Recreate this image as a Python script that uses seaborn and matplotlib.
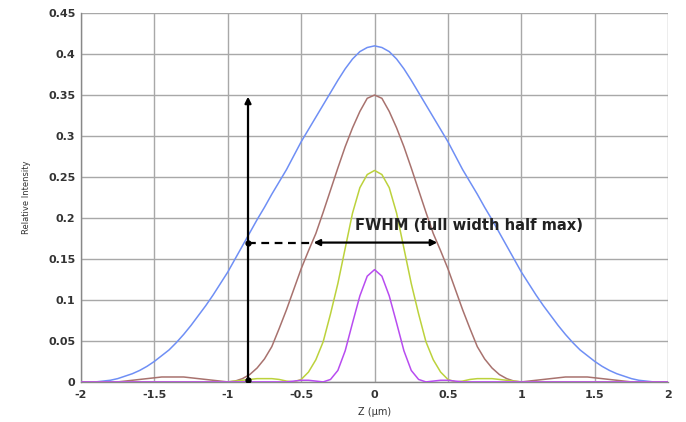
import numpy as np
import pandas as pd
import seaborn as sns
import matplotlib.pyplot as plt

# axial position (um), one grid shared by all four curves
z_um = [round(-2 + 0.05 * i, 2) for i in range(81)]

# relative intensity, left to right (z = -2 ... 2)
blue = [0.000, 0.000, 0.000, 0.001, 0.002, 0.004, 0.007, 0.010, 0.014, 0.019,
        0.025, 0.032, 0.039, 0.048, 0.058, 0.069, 0.081, 0.093, 0.106, 0.120,
        0.134, 0.150, 0.166, 0.182, 0.198, 0.213, 0.229, 0.244, 0.259, 0.276,
        0.293, 0.308, 0.323, 0.338, 0.353, 0.368, 0.382, 0.394, 0.403, 0.408,
        0.410,
        0.408, 0.403, 0.394, 0.382, 0.368, 0.353, 0.338, 0.323, 0.308, 0.293,
        0.276, 0.259, 0.244, 0.229, 0.213, 0.198, 0.182, 0.166, 0.150, 0.134,
        0.120, 0.106, 0.093, 0.081, 0.069, 0.058, 0.048, 0.039, 0.032, 0.025,
        0.019, 0.014, 0.010, 0.007, 0.004, 0.002, 0.001, 0.000, 0.000, 0.000]

brown = [0.000, 0.000, 0.000, 0.000, 0.000, 0.000, 0.001, 0.002, 0.003, 0.004,
         0.005, 0.006, 0.006, 0.006, 0.006, 0.005, 0.004, 0.003, 0.002, 0.001,
         0.000, 0.001, 0.004, 0.009, 0.017, 0.028, 0.043, 0.065, 0.088, 0.113,
         0.138, 0.160, 0.181, 0.207, 0.234, 0.261, 0.287, 0.310, 0.330, 0.346,
         0.350,
         0.346, 0.330, 0.310, 0.287, 0.261, 0.234, 0.207, 0.181, 0.160, 0.138,
         0.113, 0.088, 0.065, 0.043, 0.028, 0.017, 0.009, 0.004, 0.001, 0.000,
         0.001, 0.002, 0.003, 0.004, 0.005, 0.006, 0.006, 0.006, 0.006, 0.005,
         0.004, 0.003, 0.002, 0.001, 0.000, 0.000, 0.000, 0.000, 0.000, 0.000]

green = [0.000, 0.000, 0.000, 0.000, 0.000, 0.000, 0.000, 0.000, 0.000, 0.000,
         0.000, 0.000, 0.000, 0.000, 0.000, 0.000, 0.000, 0.000, 0.000, 0.000,
         0.000, 0.001, 0.002, 0.003, 0.004, 0.004, 0.004, 0.003, 0.001, 0.000,
         0.003, 0.012, 0.027, 0.049, 0.083, 0.120, 0.163, 0.206, 0.237, 0.253,
         0.258,
         0.253, 0.237, 0.206, 0.163, 0.120, 0.083, 0.049, 0.027, 0.012, 0.003,
         0.000, 0.001, 0.003, 0.004, 0.004, 0.004, 0.003, 0.002, 0.001, 0.000,
         0.000, 0.000, 0.000, 0.000, 0.000, 0.000, 0.000, 0.000, 0.000, 0.000,
         0.000, 0.000, 0.000, 0.000, 0.000, 0.000, 0.000, 0.000, 0.000, 0.000]

purple = [0.000, 0.000, 0.000, 0.000, 0.000, 0.000, 0.000, 0.000, 0.000, 0.000,
          0.000, 0.000, 0.000, 0.000, 0.000, 0.000, 0.000, 0.000, 0.000, 0.000,
          0.000, 0.000, 0.000, 0.000, 0.000, 0.000, 0.000, 0.000, 0.000, 0.001,
          0.002, 0.002, 0.001, 0.000, 0.003, 0.014, 0.038, 0.072, 0.105, 0.129,
          0.137,
          0.129, 0.105, 0.072, 0.038, 0.014, 0.003, 0.000, 0.001, 0.002, 0.002,
          0.001, 0.000, 0.000, 0.000, 0.000, 0.000, 0.000, 0.000, 0.000, 0.000,
          0.000, 0.000, 0.000, 0.000, 0.000, 0.000, 0.000, 0.000, 0.000, 0.000,
          0.000, 0.000, 0.000, 0.000, 0.000, 0.000, 0.000, 0.000, 0.000, 0.000]

curve_names = ['blue', 'brown', 'green', 'purple']
curve_colors = ['#6f8ff5', '#a8726e', '#bcd23c', '#b84cf0']

x_ticks = [-2, -1.5, -1, -0.5, 0, 0.5, 1, 1.5, 2]
x_tick_labels = ['-2', '-1.5', '-1', '-0.5', '0', '0.5', '1', '1.5', '2']
y_ticks = [0, 0.05, 0.1, 0.15, 0.2, 0.25, 0.3, 0.35, 0.4, 0.45]
y_tick_labels = ['0', '0.05', '0.1', '0.15', '0.2', '0.25', '0.3', '0.35', '0.4', '0.45']

# annotation positions (data units)
marker_z = -0.862
marker_top = 0.348
half_level = 0.170
fwhm_left = -0.415
fwhm_right = 0.427

df = pd.DataFrame({
    'z': z_um * 4,
    'intensity': blue + brown + green + purple,
    'curve': np.repeat(curve_names, len(z_um)),
})

sns.set_style('whitegrid')
plt.rcParams['font.family'] = ['DejaVu Sans']

fig = plt.figure(figsize=(6.86, 4.22), dpi=100)
ax = fig.add_axes([0.118, 0.095, 0.856, 0.874])

sns.lineplot(data=df, x='z', y='intensity', hue='curve', hue_order=curve_names,
             palette=dict(zip(curve_names, curve_colors)), linewidth=1.1,
             legend=False, ax=ax, zorder=3)

ax.set_xlim(-2, 2)
ax.set_ylim(0, 0.45)
ax.set_xticks(x_ticks)
ax.set_xticklabels(x_tick_labels)
ax.set_yticks(y_ticks)
ax.set_yticklabels(y_tick_labels)
ax.tick_params(labelsize=8, colors='#333333', length=0)
ax.tick_params(axis='x', pad=6)
ax.tick_params(axis='y', pad=4)
for lab in ax.get_xticklabels() + ax.get_yticklabels():
    lab.set_fontweight('semibold')

ax.grid(True, color='#a8a8a8', linewidth=1.0)
for side in ['left', 'bottom']:
    ax.spines[side].set_color('#888888')
    ax.spines[side].set_linewidth(1.0)
for side in ['top', 'right']:
    ax.spines[side].set_visible(False)

ax.set_xlabel('Z (μm)', fontsize=7, labelpad=5, color='#333333')
ax.set_ylabel('Relative Intensity', fontsize=6, labelpad=12, color='#333333')

# vertical marker arrow with its dot at the base
ax.annotate('', xy=(marker_z, marker_top), xytext=(marker_z, 0),
            arrowprops=dict(arrowstyle='-|>', color='black', lw=1.6,
                            mutation_scale=9, shrinkA=0, shrinkB=0), zorder=5)
ax.plot([marker_z, marker_z], [0.002, half_level], 'o', color='black',
        markersize=3.5, zorder=6)

# dashed half-max line and the FWHM double arrow
ax.plot([marker_z, fwhm_left], [half_level, half_level], color='black',
        lw=1.6, linestyle=(0, (3.5, 2.5)), zorder=5)
ax.annotate('', xy=(fwhm_left, half_level), xytext=(fwhm_right, half_level),
            arrowprops=dict(arrowstyle='<|-|>', color='black', lw=1.6,
                            mutation_scale=9, shrinkA=0, shrinkB=0), zorder=5)
ax.text(-0.13, 0.191, 'FWHM (full width half max)', fontsize=10.6,
        fontweight='bold', color='#222222', va='center', ha='left', zorder=6)

fig.savefig('out.png', dpi=100)
